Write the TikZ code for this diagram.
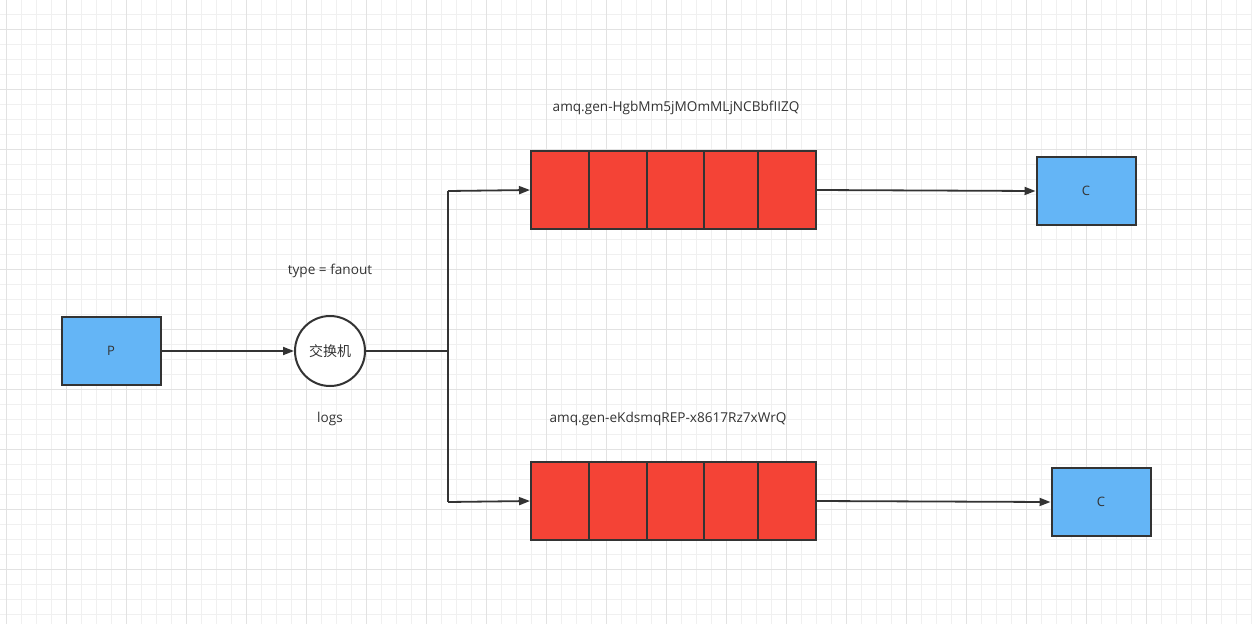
\documentclass[tikz,border=0pt]{standalone}
\usepackage{fontspec}
\setmainfont{Open Sans}
\newfontfamily\cjk{Noto Sans CJK SC}
\usetikzlibrary{arrows.meta}
\definecolor{qred}{HTML}{F44336}
\definecolor{pblue}{HTML}{64B5F6}
\definecolor{edge}{HTML}{333333}
\definecolor{gminor}{HTML}{F0F0F0}
\definecolor{gmajor}{HTML}{E2E2E2}
\tikzset{
  box/.style={draw=edge, line width=2pt, fill=pblue, minimum width=99pt, minimum height=68pt, inner sep=0pt, font=\fontsize{13}{15}\selectfont, text=edge},
  cell/.style={draw=edge, line width=2pt, fill=qred, minimum height=78pt, inner sep=0pt},
  lbl/.style={font=\fontsize{13.6}{16}\selectfont, text=edge, inner sep=0pt},
  conn/.style={draw=edge, line width=1.8pt},
  arr/.style={conn, -{Triangle[length=11pt,width=8pt]}},
}
\begin{document}
\begin{tikzpicture}[x=1pt,y=-1pt]
\useasboundingbox (0,0) rectangle (1252,624);
\fill[white] (0,0) rectangle (1252,624);
% grid
\foreach \i in {0,...,83} {\draw[gminor, line width=1pt] ({6+15*\i},0) -- ({6+15*\i},624);}
\foreach \i in {0,...,42} {\draw[gminor, line width=1pt] (0,{-1+15*\i}) -- (1252,{-1+15*\i});}
\foreach \i in {0,...,20} {\draw[gmajor, line width=1pt] ({6+60*\i},0) -- ({6+60*\i},624);}
\foreach \i in {0,...,10} {\draw[gmajor, line width=1pt] (0,{29+60*\i}) -- (1252,{29+60*\i});}

% producer
\node[box] (P) at (111,351) {P};
% exchange
\node[draw=edge, line width=2pt, fill=white, circle, minimum size=70pt, inner sep=0pt, font=\cjk\fontsize{14}{16}\selectfont, text=edge] (X) at (330,351) {交换机};
\node[lbl] (t) at (330,271) {type = fanout};
\node[lbl] (logs) at (330,419) {logs};

% queues
\foreach \q/\y in {A/190, B/501} {
  \node[cell, minimum width=58pt] (\q1) at (560,\y) {};
  \node[cell, minimum width=58pt] (\q2) at (618,\y) {};
  \node[cell, minimum width=57pt] (\q3) at (675.5,\y) {};
  \node[cell, minimum width=54pt] (\q4) at (731,\y) {};
  \node[cell, minimum width=58pt] (\q5) at (787,\y) {};
}
\node[lbl] (la) at (676,108) {amq.gen-HgbMm5jMOmMLjNCBbfIIZQ};
\node[lbl] (lb) at (668,419) {amq.gen-eKdsmqREP-x8617Rz7xWrQ};

% consumers
\node[box] (C1) at (1086,191) {C};
\node[box] (C2) at (1101,502) {C};

% connectors
\coordinate (j) at (448,351);
\coordinate (ja) at (448,191);
\coordinate (jb) at (448,502);
\draw[arr] (P.east) -- (X.west);
\draw[conn] (X.east) -- (j);
\draw[conn] (ja) -- (jb);
\draw[arr] (ja) -- (A1.west);
\draw[arr] (jb) -- (B1.west);
\draw[arr] (A5.east) -- (C1.west);
\draw[arr] (B5.east) -- (C2.west);
\end{tikzpicture}
\end{document}
